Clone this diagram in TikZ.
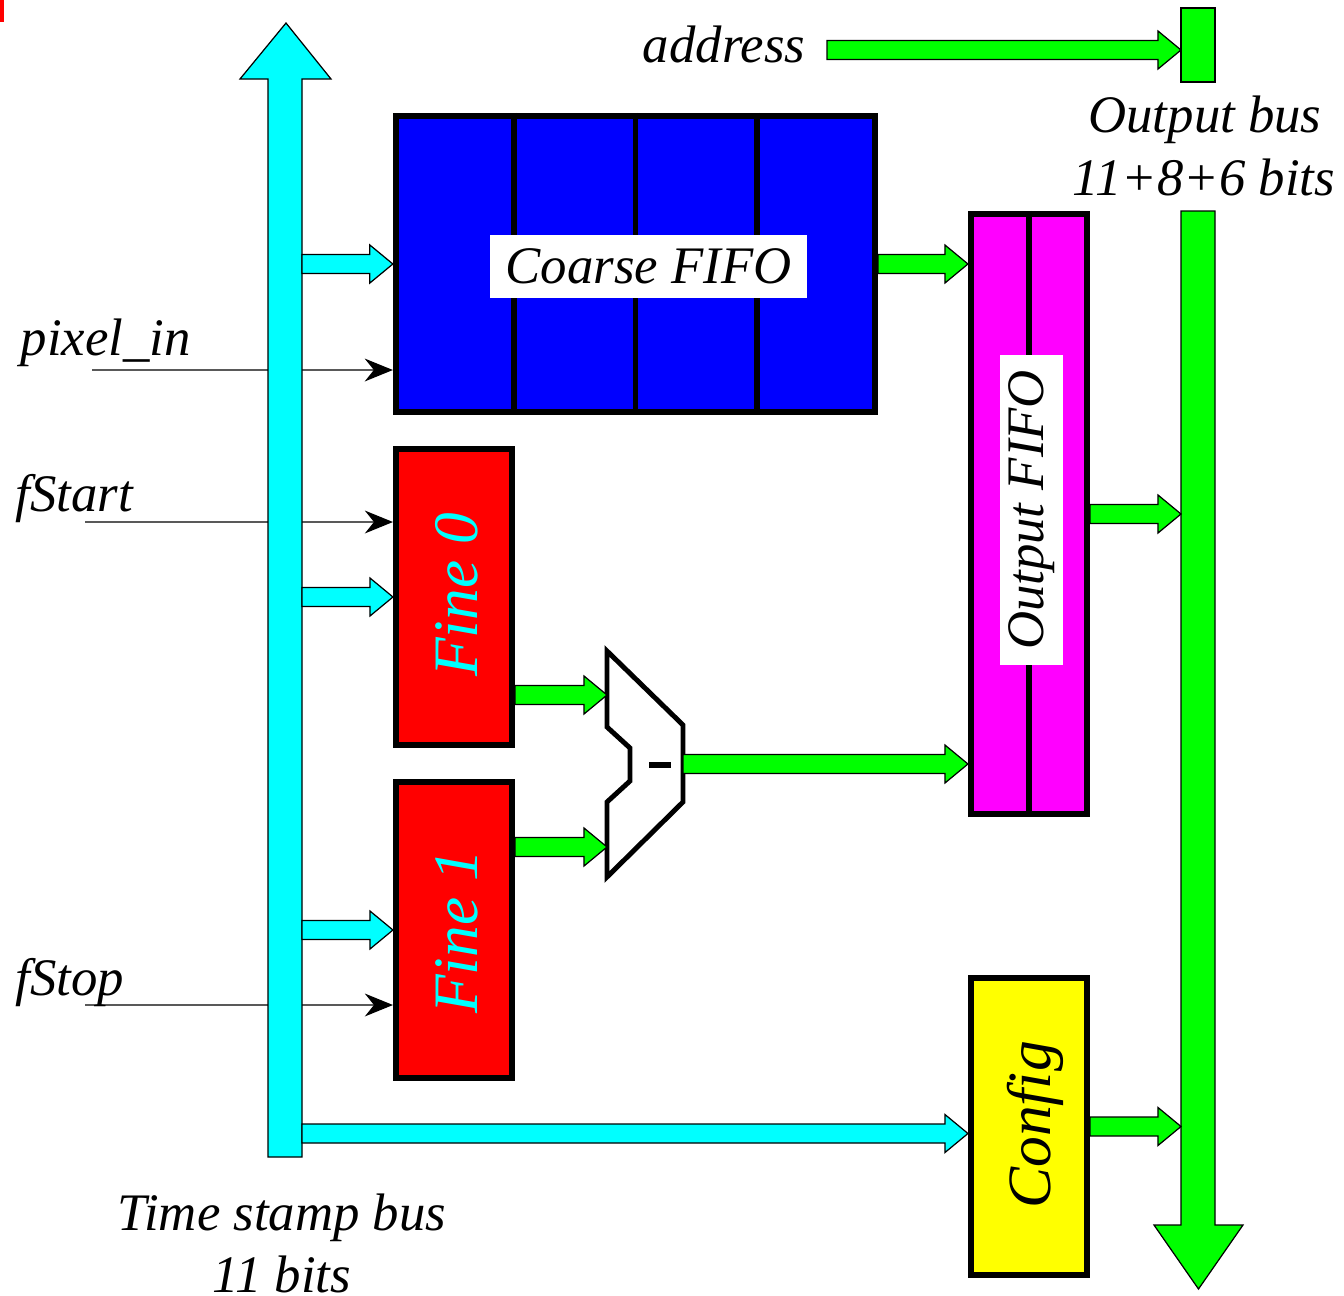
\documentclass[tikz,border=0pt]{standalone}
\usepackage{fontspec}
\setmainfont{Liberation Serif}
\usetikzlibrary{arrows.meta,calc}
\definecolor{cya}{RGB}{0,255,255}
\definecolor{mag}{RGB}{255,0,255}
\definecolor{grn}{RGB}{0,255,0}
\definecolor{yel}{RGB}{255,255,0}
\definecolor{blu}{RGB}{0,0,255}
\definecolor{rd}{RGB}{255,0,0}
\newcommand\fatR[3]{%
  \draw[fatline, fill=#3] let \p1=#1, \p2=#2 in
   (\x1,\y1+0.095cm) -- (\x2-0.23cm,\y1+0.095cm) -- (\x2-0.23cm,\y1+0.19cm) -- (\x2,\y1)
   -- (\x2-0.23cm,\y1-0.19cm) -- (\x2-0.23cm,\y1-0.095cm) -- (\x1,\y1-0.095cm) -- cycle;}
\tikzset{
  fatline/.style={draw=black, line width=0.35pt},
  block/.style={draw=black, line width=1.7pt, inner sep=0pt},
  sig/.style={draw=black!65, line width=0.4pt, -{Stealth[length=8pt,width=6.5pt,black]}},
  lbl/.style={font=\fontsize{15}{18}\selectfont\itshape, inner sep=0pt},
  biglbl/.style={font=\fontsize{18}{21}\selectfont\itshape, inner sep=0pt, rotate=90},
}
\begin{document}
\begin{tikzpicture}[x=0.01cm,y=-0.01cm]
\useasboundingbox (0,0) rectangle (1344,1296);
\fill[rd] (0,0) rectangle (4,22);
% blocks
\node[block, fill=blu, minimum width=4.79cm, minimum height=2.96cm] (cf) at (635.5,264) {};
\foreach \f in {0.25,0.5,0.75}
  \draw[line width=1.7pt] ($(cf.north west)!\f!(cf.north east)$) -- ($(cf.south west)!\f!(cf.south east)$);
\node[lbl, fill=white, minimum width=3.17cm, minimum height=0.63cm] (cflbl) at (648.5,266.5) {Coarse FIFO};
\node[block, fill=rd, minimum width=1.16cm, minimum height=2.96cm] (f0) at (454,597) {};
\node[biglbl, text=cya] (f0lbl) at (457,595) {Fine 0};
\node[block, fill=rd, minimum width=1.16cm, minimum height=2.96cm] (f1) at (454,930) {};
\node[biglbl, text=cya] (f1lbl) at (457,932) {Fine 1};
\node[block, fill=mag, minimum width=1.16cm, minimum height=6.0cm] (of) at (1029,514) {};
\draw[line width=1.7pt] (of.north) -- (of.south);
\node[lbl, fill=white, rotate=90, minimum width=3.1cm, minimum height=0.63cm] (oflbl) at (1031.5,510) {Output FIFO};
\node[block, fill=yel, minimum width=1.16cm, minimum height=2.97cm] (cfg) at (1029,1126.5) {};
\node[biglbl, font=\fontsize{17.5}{21}\selectfont\itshape] (cfglbl) at (1035,1125) {Config};
% subtractor
\draw[line width=1.4pt, line join=miter] (607,651) -- (683,725) -- (683,802) -- (607,877) -- (607,802)
  -- (630,781) -- (630,748) -- (607,727) -- cycle;
\fill (649,762) rectangle (671,768);
\coordinate (sub1) at (607,695);
\coordinate (sub2) at (607,847);
\coordinate (subout) at (683,764);
% signal lines
\coordinate (pinS) at (92,370);
\coordinate (fsS) at (85,522);
\coordinate (fpS) at (85,1005);
\draw[sig] (pinS) -- (cf.west |- pinS);
\draw[sig] (fsS) -- (f0.west |- fsS);
\draw[sig] (fpS) -- (f1.west |- fpS);
% time stamp bus
\coordinate (tsR) at (302,600);
\draw[fatline, fill=cya] (268,1157) -- (268,79) -- (240,79) -- (286,23) -- (331,79) -- (302,79) -- (302,1157) -- cycle;
\fatR{(tsR |- cf.west)}{(cf.west)}{cya}
\fatR{(tsR |- f0.west)}{(f0.west)}{cya}
\fatR{(tsR |- f1.west)}{(f1.west)}{cya}
\coordinate (cfgin) at ($(cfg.west)+(0,7)$);
\fatR{(tsR |- cfgin)}{(cfgin)}{cya}
% output bus
\coordinate (obusL) at (1181,600);
\draw[fatline, fill=grn] (1181,8) rectangle (1215,82);
\draw[fatline, fill=grn] (1181,211) -- (1181,1225) -- (1154,1225) -- (1198.5,1289) -- (1243,1225) -- (1215,1225) -- (1215,211) -- cycle;
% green connectors
\fatR{(cf.east)}{(of.west |- cf.east)}{grn}
\fatR{(f0.east |- sub1)}{(sub1)}{grn}
\fatR{(f1.east |- sub2)}{(sub2)}{grn}
\fatR{(subout)}{(of.west |- subout)}{grn}
\fatR{(of.east)}{(obusL |- of.east)}{grn}
\fatR{(cfg.east)}{(obusL |- cfg.east)}{grn}
\coordinate (addrS) at (827,50);
\fatR{(addrS)}{(obusL |- addrS)}{grn}
% texts
\node[lbl, anchor=base] (addr) at (724,62) {address};
\node[lbl, anchor=base] (obus1) at (1205,132) {Output bus};
\node[lbl, anchor=base] (obus2) at (1204,195) {11+8+6 bits};
\node[lbl, anchor=base west] (pin) at (20,355) {pixel\_in};
\node[lbl, anchor=base west] (fst) at (15,511) {fStart};
\node[lbl, anchor=base west] (fsp) at (15,995) {fStop};
\node[lbl, anchor=base] (ts1) at (282,1230) {Time stamp bus};
\node[lbl, anchor=base] (ts2) at (282,1292) {11 bits};
\end{tikzpicture}
\end{document}
